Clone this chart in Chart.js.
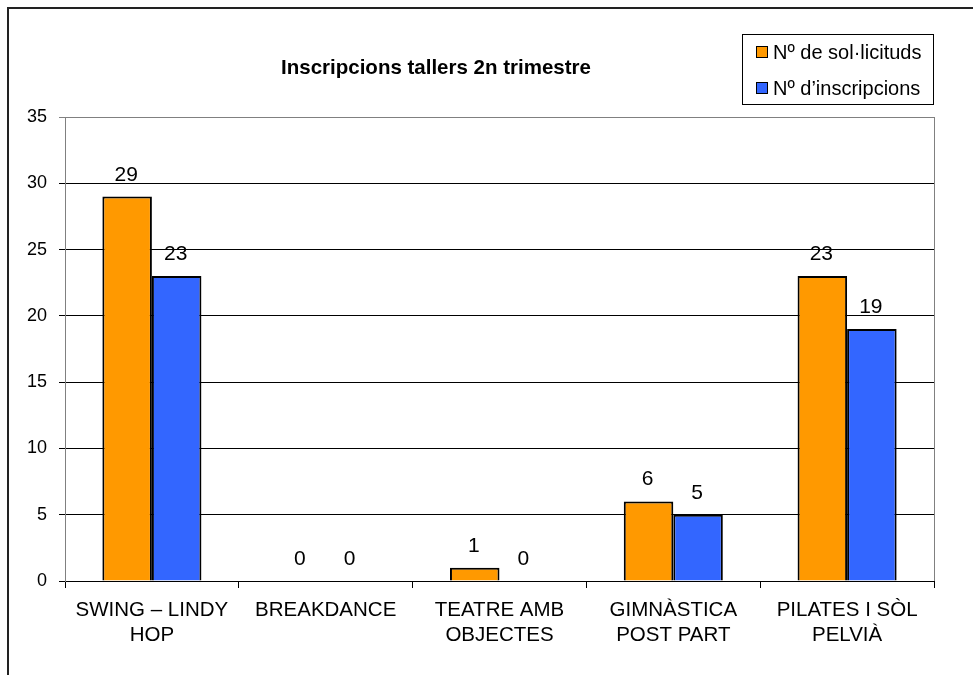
<!DOCTYPE html>
<html>
<head>
<meta charset="utf-8">
<title>Inscripcions tallers 2n trimestre</title>
<script src="https://cdn.jsdelivr.net/npm/chart.js@4.4.1/dist/chart.umd.min.js"></script>
<style>
  html, body { margin: 0; padding: 0; background: #fff; }
  #wrap { width: 973px; height: 675px; }
</style>
</head>
<body>
<div id="wrap"><canvas id="chart" width="973" height="675"></canvas></div>
<script>
const categories = [
  ["SWING – LINDY", "HOP"],
  ["BREAKDANCE"],
  ["TEATRE AMB", "OBJECTES"],
  ["GIMNÀSTICA", "POST PART"],
  ["PILATES I SÒL", "PELVIÀ"]
];
const solicituds = [29, 0, 1, 6, 23];
const inscripcions = [23, 0, 0, 5, 19];
const seriesNames = ["Nº de sol·licituds", "Nº d’inscripcions"];
const yTicks = [0, 5, 10, 15, 20, 25, 30, 35];

const chartTitle = "Inscripcions tallers 2n trimestre";
const FONT = "'Liberation Sans', Arial, sans-serif";

// frame, title, legend box, value labels
const decorations = {
  id: 'decorations',
  afterDatasetsDraw(chart) {
    const ctx = chart.ctx;
    ctx.save();
    ctx.font = "21px " + FONT;
    ctx.fillStyle = "#000";
    ctx.textAlign = "center";
    ctx.textBaseline = "alphabetic";
    chart.data.datasets.forEach((ds, i) => {
      chart.getDatasetMeta(i).data.forEach((bar, j) => {
        ctx.fillText(String(ds.data[j]), bar.x - 1, bar.y - 16);
      });
    });
    ctx.restore();
  },
  afterDraw(chart) {
    const ctx = chart.ctx;
    const a = chart.chartArea;
    ctx.save();
    // right border of plot area
    ctx.strokeStyle = "#808080";
    ctx.lineWidth = 1;
    ctx.beginPath();
    ctx.moveTo(Math.round(a.right) + 0.5, a.top);
    ctx.lineTo(Math.round(a.right) + 0.5, a.bottom);
    ctx.stroke();

    // outer frame
    ctx.strokeStyle = "#222";
    ctx.lineWidth = 2;
    ctx.strokeRect(8, 8, 1200, 1000);

    // title
    ctx.fillStyle = "#000";
    ctx.font = "bold 20.5px " + FONT;
    ctx.textAlign = "center";
    ctx.textBaseline = "middle";
    ctx.fillText(chartTitle, 436, 68);

    // legend
    ctx.strokeStyle = "#000";
    ctx.lineWidth = 1;
    ctx.strokeRect(742.5, 34.5, 191, 70);
    ctx.font = "20px " + FONT;
    ctx.textAlign = "left";
    chart.data.datasets.forEach((ds, i) => {
      const cy = 52 + i * 36;
      ctx.fillStyle = ds.backgroundColor;
      ctx.fillRect(756, cy - 6, 12, 12);
      ctx.strokeRect(756.5, cy - 5.5, 11, 11);
      ctx.fillStyle = "#000";
      ctx.fillText(ds.label, 773, cy + 1);
    });
    ctx.restore();
  }
};

new Chart(document.getElementById('chart'), {
  type: 'bar',
  data: {
    labels: categories,
    datasets: [
      {
        label: seriesNames[0],
        data: solicituds,
        backgroundColor: '#FF9900',
        borderColor: '#000',
        borderWidth: 2
      },
      {
        label: seriesNames[1],
        data: inscripcions,
        backgroundColor: '#3366FF',
        borderColor: '#000',
        borderWidth: 2
      }
    ]
  },
  options: {
    responsive: false,
    animation: false,
    devicePixelRatio: 1,
    layout: { padding: { top: 117, right: 39, left: 0, bottom: 0 } },
    datasets: {
      bar: { categoryPercentage: 0.57, barPercentage: 1 }
    },
    plugins: {
      legend: { display: false },
      title: { display: false },
      tooltip: { enabled: false }
    },
    scales: {
      x: {
        afterFit(scale) { scale.height = 94; },
        grid: {
          offset: true,
          drawOnChartArea: false,
          drawTicks: true,
          tickLength: 7,
          color: '#000'
        },
        border: { color: '#000', width: 1 },
        ticks: {
          color: '#000',
          font: { family: FONT, size: 20.5, lineHeight: 1.22 },
          padding: 10,
          maxRotation: 0,
          autoSkip: false
        }
      },
      y: {
        min: 0,
        max: 35,
        afterFit(scale) { scale.width = 65; },
        afterBuildTicks(scale) { scale.ticks = yTicks.map(v => ({ value: v })); },
        grid: {
          color: ctx => (ctx.tick && ctx.tick.value === 35) ? '#808080' : '#000',
          tickLength: 6,
          drawTicks: true
        },
        border: { color: '#808080', width: 1 },
        ticks: {
          color: '#000',
          font: { family: FONT, size: 18 },
          padding: 12
        }
      }
    }
  },
  plugins: [decorations]
});
</script>
</body>
</html>
